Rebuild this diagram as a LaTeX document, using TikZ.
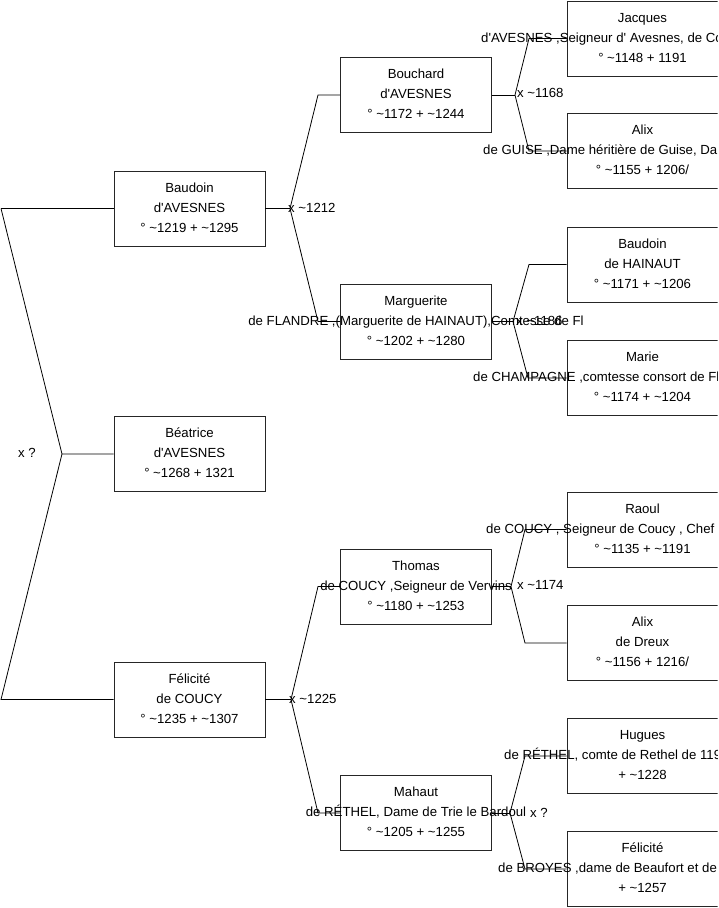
\documentclass[tikz,border=0pt]{standalone}
\usepackage{fontspec}
\setmainfont{Liberation Sans}
\usetikzlibrary{calc}
\newcommand\tl{\textasciitilde}
\newcommand\ap{\textquotesingle}
\tikzset{
  pbox/.style={draw=black!85, line width=0.9pt, minimum width=151pt, minimum height=75pt, inner sep=0pt},
  ptext/.style={anchor=base, inner sep=0pt, font=\fontsize{13.2}{20}\selectfont},
  ltext/.style={anchor=base west, inner sep=0pt, font=\fontsize{13.2}{20}\selectfont},
  conn/.style={draw=black, line width=0.8pt}
}
\newcommand\pers[6]{%
  \node[pbox] (#1) at (#2,#3) {};
  \node[ptext] at (#2,{#3-16.5}) {#4};
  \node[ptext] at (#2,{#3+3.5}) {#5};
  \node[ptext] at (#2,{#3+23.5}) {#6};
}
\begin{document}
\begin{tikzpicture}[x=1pt,y=-1pt]
\useasboundingbox (0,0) rectangle (719,908);
\begin{scope}
\clip (0,0) rectangle (717.5,908);
% left column
\pers{baud}{189.5}{208.5}{Baudoin}{d\ap AVESNES}{° \tl1219 + \tl1295}
\pers{beat}{189.5}{454}{Béatrice}{d\ap AVESNES}{° \tl1268 + 1321}
\pers{feli}{189.5}{699.5}{Félicité}{de COUCY}{° \tl1235 + \tl1307}
% middle column
\pers{bouc}{416}{95}{Bouchard}{d\ap AVESNES}{° \tl1172 + \tl1244}
\pers{marg}{416}{321.5}{Marguerite}{de FLANDRE ,(Marguerite de HAINAUT),Comtesse de Fl}{° \tl1202 + \tl1280}
\pers{thom}{416}{586.5}{Thomas}{de COUCY ,Seigneur de Vervins}{° \tl1180 + \tl1253}
\pers{maha}{416}{813}{Mahaut}{de RÉTHEL, Dame de Trie le Bardoul}{° \tl1205 + \tl1255}
% right column
\pers{jacq}{642.5}{38.5}{Jacques}{}{° \tl1148 + 1191}
\node[ltext] at (481,42) {d\ap AVESNES ,Seigneur d\ap{} Avesnes, de Co};
\pers{alix}{642.5}{151}{Alix}{}{° \tl1155 + 1206/}
\node[ltext] at (483,154.5) {de GUISE ,Dame héritière de Guise, Da};
\pers{bauh}{642.5}{264.5}{Baudoin}{de HAINAUT}{° \tl1171 + \tl1206}
\pers{mari}{642.5}{378}{Marie}{}{° \tl1174 + \tl1204}
\node[ltext] at (473,381.5) {de CHAMPAGNE ,comtesse consort de Fl};
\pers{raou}{642.5}{529.5}{Raoul}{}{° \tl1135 + \tl1191}
\node[ltext] at (486,533) {de COUCY , Seigneur de Coucy , Chef};
\pers{alid}{642.5}{643}{Alix}{de Dreux}{° \tl1156 + 1216/}
\pers{hugu}{642.5}{756}{Hugues}{}{+ \tl1228}
\node[ltext] at (504,759.5) {de RÉTHEL, comte de Rethel de 119};
\pers{felb}{642.5}{869}{Félicité}{}{+ \tl1257}
\node[ltext] at (498,872.5) {de BROYES ,dame de Beaufort et de};
\end{scope}
% coordinates of forks
\coordinate (r1) at (1,208.5);
\coordinate (r2) at (1,699.5);
\coordinate (rf) at (62,454);
\coordinate (f1) at (290,208.5);
\coordinate (f1a) at (318,95);
\coordinate (f1b) at (318,321.5);
\coordinate (f2) at (291,699.5);
\coordinate (f2a) at (318,586.5);
\coordinate (f2b) at (318,813);
\coordinate (f3) at (515,95);
\coordinate (f3a) at (529,38.5);
\coordinate (f3b) at (529,151);
\coordinate (f4) at (513,321.5);
\coordinate (f4a) at (529,264.5);
\coordinate (f4b) at (528,378);
\coordinate (f5) at (511,586.5);
\coordinate (f5a) at (525,529.5);
\coordinate (f5b) at (525,643);
\coordinate (f6) at (510,813);
\coordinate (f6a) at (525,756);
\coordinate (f6b) at (525,869);
% connectors
\draw[conn] (r1) -- (baud.west);
\draw[conn] (r1) -- (rf) -- (beat.west);
\draw[conn] (rf) -- (r2) -- (feli.west);
\draw[conn] (baud.east) -- (f1);
\draw[conn] (f1) -- (f1a) -- (bouc.west);
\draw[conn] (f1) -- (f1b) -- (marg.west);
\draw[conn] (feli.east) -- (f2);
\draw[conn] (f2) -- (f2a) -- (thom.west);
\draw[conn] (f2) -- (f2b) -- (maha.west);
\draw[conn] (bouc.east) -- (f3);
\draw[conn] (f3) -- (f3a) -- (jacq.west);
\draw[conn] (f3) -- (f3b) -- (alix.west);
\draw[conn] (marg.east) -- (f4);
\draw[conn] (f4) -- (f4a) -- (bauh.west);
\draw[conn] (f4) -- (f4b) -- (mari.west);
\draw[conn] (thom.east) -- (f5);
\draw[conn] (f5) -- (f5a) -- (raou.west);
\draw[conn] (f5) -- (f5b) -- (alid.west);
\draw[conn] (maha.east) -- (f6);
\draw[conn] (f6) -- (f6a) -- (hugu.west);
\draw[conn] (f6) -- (f6b) -- (felb.west);
% marriage labels
\node[ltext] at (18,457) {x ?};
\node[ltext] at (288,212) {x \tl1212};
\node[ltext] at (289,703) {x \tl1225};
\node[ltext] at (517,97.5) {x \tl1168};
\node[ltext] at (516,325) {x \tl1186};
\node[ltext] at (517,589.5) {x \tl1174};
\node[ltext] at (530,817) {x ?};
\end{tikzpicture}
\end{document}
